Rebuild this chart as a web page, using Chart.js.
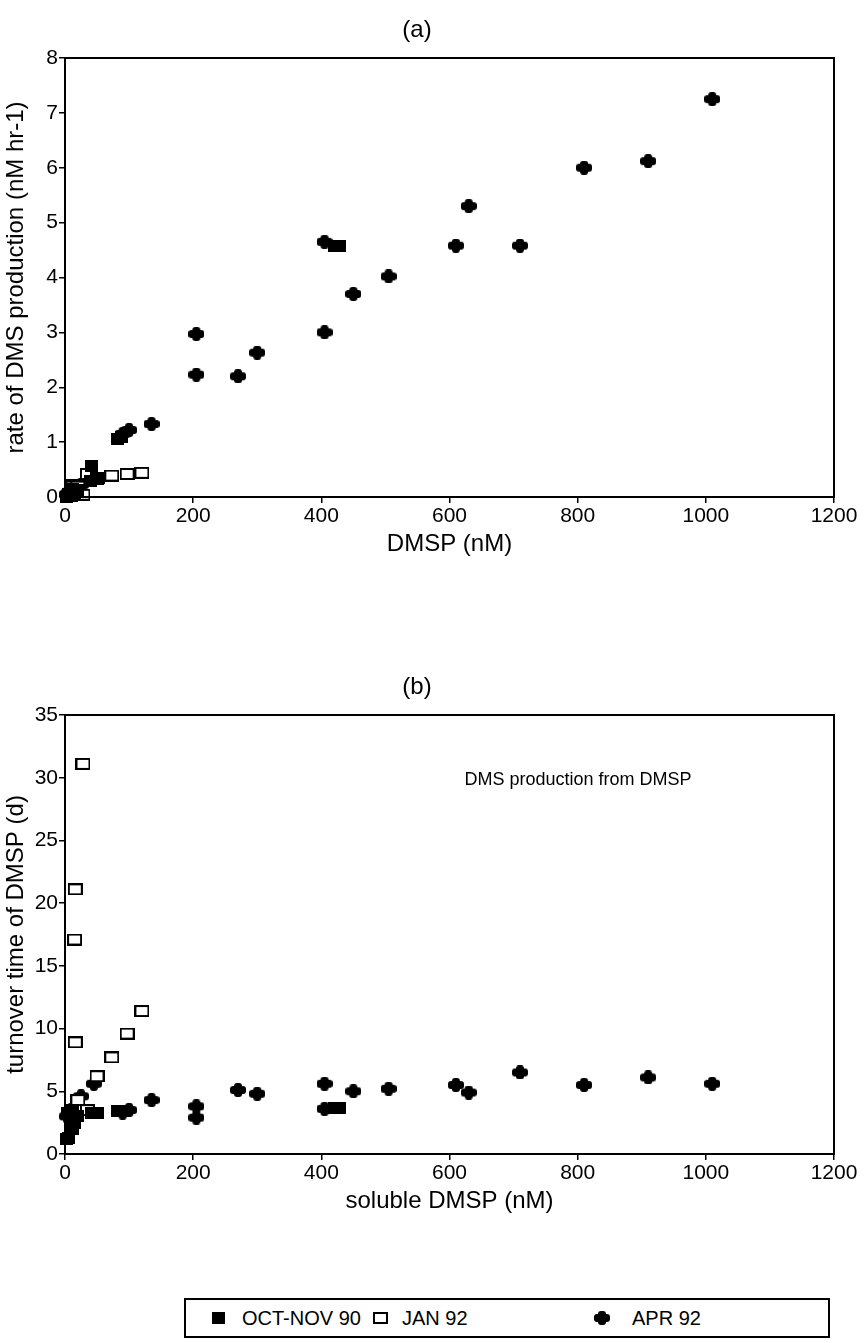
<!DOCTYPE html>
<html>
<head>
<meta charset="utf-8">
<script src="https://cdn.jsdelivr.net/npm/chart.js@4.4.1/dist/chart.umd.min.js"></script>
<style>
  body { margin: 0; background: #fff; width: 864px; height: 1343px; position: relative; font-family: "Liberation Sans", Arial, sans-serif; }
  .panel { position: absolute; left: 0; width: 864px; height: 560px; }
  #legend { position: absolute; left: 184px; top: 1298px; width: 642px; height: 36px; border: 2px solid #000; }
  #legend .item { position: absolute; top: 0; height: 36px; line-height: 37px; font-size: 20px; color: #000; }
  #legend canvas { position: absolute; }
</style>
</head>
<body>
<div class="panel" style="top:0"><canvas id="chartA"></canvas></div>
<div class="panel" style="top:657px"><canvas id="chartB"></canvas></div>
<div id="legend"></div>

<script>
// panel (a): rate of DMS production vs DMSP
const octX_a = [2, 5, 8, 10, 12, 15, 20, 40, 42, 50, 82, 88, 420, 428];
const octY_a = [0.0, 0.05, 0.1, 0.02, 0.15, 0.08, 0.12, 0.3, 0.57, 0.33, 1.05, 1.1, 4.57, 4.57];
const janX_a = [10, 12, 15, 16, 16, 20, 28, 35, 50, 73, 97, 120];
const janY_a = [0.21, 0.19, 0.04, 0.08, 0.03, 0.19, 0.04, 0.42, 0.34, 0.39, 0.42, 0.44];
const aprX_a = [3, 6, 10, 25, 45, 90, 100, 135, 205, 205, 270, 300, 405, 405, 450, 505, 610, 630, 710, 810, 910, 1010];
const aprY_a = [0.05, 0.08, 0.1, 0.22, 0.35, 1.15, 1.22, 1.33, 2.97, 2.23, 2.2, 2.63, 4.65, 3.0, 3.7, 4.02, 4.58, 5.3, 4.58, 6.0, 6.12, 7.25];

// panel (b): turnover time vs soluble DMSP
const octX_b = [2, 4, 6, 8, 10, 12, 15, 20, 42, 50, 82, 90, 420, 428];
const octY_b = [1.2, 3.3, 1.3, 2.0, 2.8, 3.5, 2.5, 3.0, 3.3, 3.3, 3.4, 3.4, 3.7, 3.7];
const janX_b = [10, 12, 15, 16, 16, 20, 28, 35, 50, 73, 97, 120];
const janY_b = [2.0, 2.6, 17.1, 8.9, 21.1, 4.3, 31.1, 3.5, 6.2, 7.7, 9.6, 11.4];
const aprX_b = [3, 6, 10, 25, 45, 90, 100, 135, 205, 205, 270, 300, 405, 405, 450, 505, 610, 630, 710, 810, 910, 1010];
const aprY_b = [3.0, 3.3, 3.5, 4.6, 5.6, 3.3, 3.5, 4.3, 2.9, 3.8, 5.1, 4.8, 3.6, 5.6, 5.0, 5.2, 5.5, 4.9, 6.5, 5.5, 6.1, 5.6];

const seriesNames = ["OCT-NOV 90", "JAN 92", "APR 92"];
const xTicks = [0, 200, 400, 600, 800, 1000, 1200];

const FONT = '"Liberation Sans", Arial, sans-serif';

// marker images
function filledSquare() {
  const c = document.createElement('canvas');
  c.width = 13; c.height = 12;
  const g = c.getContext('2d');
  g.fillStyle = '#000';
  g.fillRect(0, 0, 13, 12);
  return c;
}
function openSquare() {
  const c = document.createElement('canvas');
  c.width = 15; c.height = 12;
  const g = c.getContext('2d');
  g.fillStyle = '#fff';
  g.fillRect(0, 0, 15, 12);
  g.strokeStyle = '#000';
  g.lineWidth = 2;
  g.strokeRect(1, 1, 13, 10);
  return c;
}
function plusBlob() {
  const c = document.createElement('canvas');
  c.width = 16; c.height = 14;
  const g = c.getContext('2d');
  g.fillStyle = '#000';
  g.beginPath();
  g.roundRect(0, 3, 16, 8, 3);
  g.fill();
  g.beginPath();
  g.roundRect(4, 0, 8, 14, 3);
  g.fill();
  return c;
}

const frame = {
  id: 'frame',
  afterDraw(chart) {
    const a = chart.chartArea, ctx = chart.ctx;
    ctx.save();
    ctx.strokeStyle = '#000';
    ctx.lineWidth = 2;
    ctx.strokeRect(a.left, a.top, a.right - a.left, a.bottom - a.top);
    ctx.restore();
  }
};

function pts(xs, ys) {
  return xs.map((x, i) => ({ x: x, y: ys[i] }));
}

function makePanel(id, title, xTitle, yTitle, yMax, yStep, sets, extra) {
  const markers = [filledSquare(), openSquare(), plusBlob()];
  return new Chart(document.getElementById(id), {
    type: 'scatter',
    data: {
      datasets: sets.map((s, i) => ({
        label: seriesNames[i],
        data: pts(s[0], s[1]),
        pointStyle: markers[i],
        pointRadius: 7,
        clip: false
      }))
    },
    options: {
      responsive: true,
      maintainAspectRatio: false,
      animation: false,
      layout: { padding: { left: 0, right: 30, top: 0, bottom: 0 } },
      plugins: {
        legend: { display: false },
        tooltip: { enabled: false },
        title: {
          display: true,
          text: title,
          color: '#000',
          font: { family: FONT, size: 24, weight: 'normal' },
          padding: { top: 16, bottom: 13.2 }
        }
      },
      scales: {
        x: {
          type: 'linear',
          min: 0, max: 1200,
          afterFit: s => { s.height = 63; },
          afterBuildTicks: s => { s.ticks = xTicks.map(v => ({ value: v })); },
          ticks: { color: '#000', font: { family: FONT, size: 21 }, padding: 1, maxRotation: 0, callback: v => String(v) },
          grid: { drawOnChartArea: false, drawTicks: true, tickLength: 6, color: '#000', lineWidth: 1.5 },
          border: { display: true, color: '#000', width: 2 },
          title: { display: true, text: xTitle, color: '#000', font: { family: FONT, size: 24 }, padding: { top: 0, bottom: 1 } }
        },
        y: {
          min: 0, max: yMax,
          afterFit: s => { s.width = 65; },
          ticks: { stepSize: yStep, color: '#000', font: { family: FONT, size: 21 }, padding: 1, callback: v => String(v) },
          grid: { drawOnChartArea: false, drawTicks: true, tickLength: 6, color: '#000', lineWidth: 1.5 },
          border: { display: true, color: '#000', width: 2 },
          title: { display: true, text: yTitle, color: '#000', font: { family: FONT, size: 24 }, padding: { top: 2, bottom: 0 } }
        }
      }
    },
    plugins: [frame].concat(extra || [])
  });
}

const note = {
  id: 'note',
  afterDraw(chart) {
    const ctx = chart.ctx;
    ctx.save();
    ctx.fillStyle = '#000';
    ctx.font = '18px ' + FONT;
    ctx.textAlign = 'center';
    ctx.textBaseline = 'middle';
    ctx.fillText('DMS production from DMSP', 578, 123);
    ctx.restore();
  }
};

makePanel('chartA', '(a)', 'DMSP (nM)', 'rate of DMS production (nM hr-1)', 8, 1,
  [[octX_a, octY_a], [janX_a, janY_a], [aprX_a, aprY_a]]);
makePanel('chartB', '(b)', 'soluble DMSP (nM)', 'turnover time of DMSP (d)', 35, 5,
  [[octX_b, octY_b], [janX_b, janY_b], [aprX_b, aprY_b]], [note]);

// legend box
const legend = document.getElementById('legend');
const legendPos = [[32, 56], [194, 216], [416, 446]];
const legendMarks = [filledSquare, openSquare, plusBlob];
seriesNames.forEach((name, i) => {
  const m = legendMarks[i]();
  m.style.left = (legendPos[i][0] - m.width / 2) + 'px';
  m.style.top = (18 - m.height / 2) + 'px';
  legend.appendChild(m);
  const t = document.createElement('div');
  t.className = 'item';
  t.style.left = legendPos[i][1] + 'px';
  t.textContent = name;
  legend.appendChild(t);
});
</script>
</body>
</html>
